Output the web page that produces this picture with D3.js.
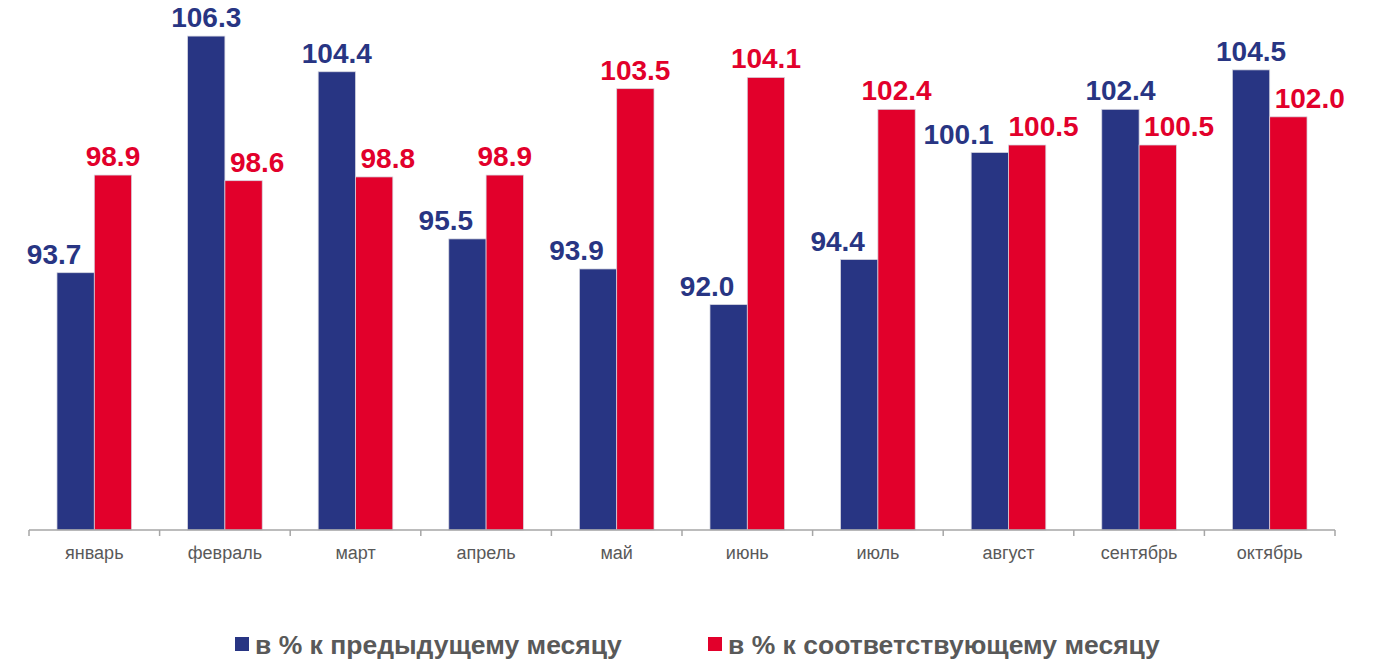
<!DOCTYPE html>
<html>
<head>
<meta charset="utf-8">
<script src="https://cdn.jsdelivr.net/npm/d3@7"></script>
<style>
  body { margin: 0; background: #fff; }
  svg { display: block; font-family: "Liberation Sans", Arial, sans-serif; }
</style>
</head>
<body>
<script>
const months = ['январь', 'февраль', 'март', 'апрель', 'май', 'июнь', 'июль', 'август', 'сентябрь', 'октябрь']
const prevMonth = [93.7, 106.3, 104.4, 95.5, 93.9, 92.0, 94.4, 100.1, 102.4, 104.5]
const sameMonth = [98.9, 98.6, 98.8, 98.9, 103.5, 104.1, 102.4, 100.5, 100.5, 102.0]
const seriesNames = ['в % к предыдущему месяцу', 'в % к соответствующему месяцу']

const w = 1376
const h = 661
const blue = '#283583'
const red = '#e2002b'
const grey = '#595959'

const svg = d3.select('body').append('svg')
    .attr('width', w)
    .attr('height', h)

const x0 = d3.scaleBand()
    .domain(months)
    .range([29, 1335])
    .padding(0)

const x1 = d3.scaleBand()
    .domain([0, 1])
    .range([0, x0.bandwidth()])
    .paddingInner(0)
    .paddingOuter(0.75)

const yScale = d3.scaleLinear()
    .domain([80, 108])
    .range([530, 530 - 28 * 18.78])

const rows = months.map(function (m, i) {
    return { month: m, vals: [prevMonth[i], sameMonth[i]] }
})

// bars
const groups = svg.append('g').selectAll('g')
    .data(rows)
    .join('g')
    .attr('transform', d => `translate(${x0(d.month)},0)`)

groups.selectAll('rect')
    .data(d => d.vals.map((v, k) => ({ v: v, k: k })))
    .join('rect')
    .attr('x', d => x1(d.k))
    .attr('y', d => yScale(d.v))
    .attr('width', x1.bandwidth())
    .attr('height', d => yScale(80) - yScale(d.v))
    .attr('fill', d => d.k === 0 ? blue : red)
    .attr('stroke', '#d6d6e0')
    .attr('stroke-width', 0.75)

// value labels: the taller bar keeps its label centered,
// the shorter one is pushed outward away from its neighbour
const labelSize = 28
groups.each(function (d) {
    const g = d3.select(this)
    const center = x0.bandwidth() / 2
    const texts = d.vals.map(function (v, k) {
        const other = d.vals[1 - k]
        const t = g.append('text')
            .attr('y', yScale(v) - 9)
            .attr('fill', k === 0 ? blue : red)
            .attr('font-size', labelSize)
            .attr('font-weight', 'bold')
            .text(v.toFixed(1))
        if (v >= other) {
            t.attr('x', x1(k) + x1.bandwidth() / 2).attr('text-anchor', 'middle')
        } else if (k === 0) {
            t.attr('x', center - 13).attr('text-anchor', 'end')
        } else {
            t.attr('x', center + 5).attr('text-anchor', 'start')
        }
        return t
    })
    // if the two labels collide, move the red one to the right of the pair center
    const b0 = texts[0].node().getBBox()
    const b1 = texts[1].node().getBBox()
    const overlapX = b0.x + b0.width > b1.x && b1.x + b1.width > b0.x
    const overlapY = b0.y + b0.height > b1.y && b1.y + b1.height > b0.y
    if (overlapX && overlapY) {
        texts[0].attr('x', center - 15).attr('text-anchor', 'end')
        texts[1].attr('x', center).attr('text-anchor', 'start')
    }
})

// x axis
const xAxis = svg.append('g')
    .attr('transform', 'translate(0,530)')
xAxis.append('line')
    .attr('x1', x0.range()[0])
    .attr('x2', x0.range()[1])
    .attr('stroke', '#a6a6a6')
    .attr('stroke-width', 1.5)
const edges = months.map(m => x0(m)).concat([x0.range()[1]])
xAxis.selectAll('.tick')
    .data(edges)
    .join('line')
    .attr('class', 'tick')
    .attr('x1', d => d)
    .attr('x2', d => d)
    .attr('y1', 0)
    .attr('y2', 6)
    .attr('stroke', '#a6a6a6')
    .attr('stroke-width', 1.5)
xAxis.selectAll('.lbl')
    .data(months)
    .join('text')
    .attr('class', 'lbl')
    .attr('x', d => x0(d) + x0.bandwidth() / 2)
    .attr('y', 29)
    .attr('text-anchor', 'middle')
    .attr('font-size', 18)
    .attr('fill', grey)
    .text(d => d)

// legend
const legendX = [235, 708]
const legend = svg.append('g').selectAll('g')
    .data(seriesNames)
    .join('g')
    .attr('transform', (d, i) => `translate(${legendX[i]},637)`)
legend.append('rect')
    .attr('width', 14)
    .attr('height', 14)
    .attr('fill', (d, i) => i === 0 ? blue : red)
legend.append('text')
    .attr('x', 20)
    .attr('y', 16.5)
    .attr('font-size', 26.5)
    .attr('font-weight', 'bold')
    .attr('fill', grey)
    .text(d => d)
</script>
</body>
</html>
